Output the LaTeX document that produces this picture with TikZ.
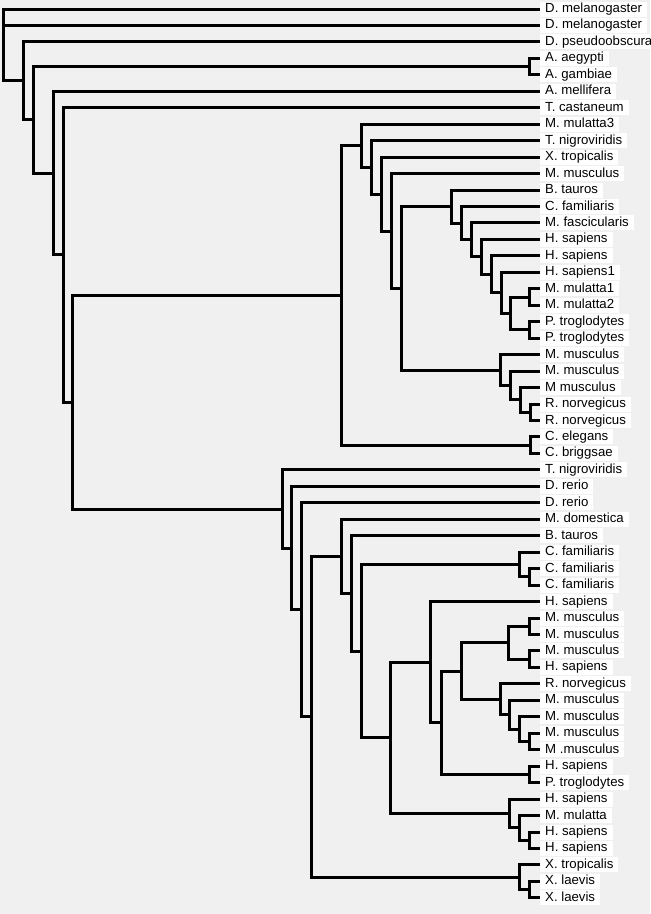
\documentclass[tikz,border=0pt]{standalone}
\usepackage{fontspec}
\setmainfont{Liberation Sans}
\definecolor{bgray}{HTML}{F0F0F0}

\tikzstyle{taxon} = [anchor=west, fill=white, font=\fontsize{13.2}{14}\selectfont, inner xsep=5pt, inner ysep=0pt, minimum height=15pt, text height=9.5pt, text depth=2.5pt]
\tikzstyle{branch} = [line width=3pt, line join=miter]

\begin{document}
\begin{tikzpicture}[x=1pt, y=-16.46pt]
\fill [bgray] (0,-0.547) rectangle (650,54.98);
\useasboundingbox (0,-0.547) rectangle (650,54.98);

% taxa
\node (dmel1) [taxon] at (540,0) {D. melanogaster};
\node (dmel2) [taxon] at (540,1) {D. melanogaster};
\node (dpse) [taxon] at (540,2) {D. pseudoobscura};
\node (aaeg) [taxon] at (540,3) {A. aegypti};
\node (agam) [taxon] at (540,4) {A. gambiae};
\node (amel) [taxon] at (540,5) {A. mellifera};
\node (tcas) [taxon] at (540,6) {T. castaneum};
\node (mmul3) [taxon] at (540,7) {M. mulatta3};
\node (tnig1) [taxon] at (540,8) {T. nigroviridis};
\node (xtro1) [taxon] at (540,9) {X. tropicalis};
\node (mmus1) [taxon] at (540,10) {M. musculus};
\node (btau1) [taxon] at (540,11) {B. tauros};
\node (cfam1) [taxon] at (540,12) {C. familiaris};
\node (mfas) [taxon] at (540,13) {M. fascicularis};
\node (hsap1) [taxon] at (540,14) {H. sapiens};
\node (hsap2) [taxon] at (540,15) {H. sapiens};
\node (hsap3) [taxon] at (540,16) {H. sapiens1};
\node (mmul1) [taxon] at (540,17) {M. mulatta1};
\node (mmul2) [taxon] at (540,18) {M. mulatta2};
\node (ptro1) [taxon] at (540,19) {P. troglodytes};
\node (ptro2) [taxon] at (540,20) {P. troglodytes};
\node (mmus2) [taxon] at (540,21) {M. musculus};
\node (mmus3) [taxon] at (540,22) {M. musculus};
\node (mmus4) [taxon] at (540,23) {M musculus};
\node (rnor1) [taxon] at (540,24) {R. norvegicus};
\node (rnor2) [taxon] at (540,25) {R. norvegicus};
\node (cele) [taxon] at (540,26) {C. elegans};
\node (cbri) [taxon] at (540,27) {C. briggsae};
\node (tnig2) [taxon] at (540,28) {T. nigroviridis};
\node (drer1) [taxon] at (540,29) {D. rerio};
\node (drer2) [taxon] at (540,30) {D. rerio};
\node (mdom) [taxon] at (540,31) {M. domestica};
\node (btau2) [taxon] at (540,32) {B. tauros};
\node (cfam2) [taxon] at (540,33) {C. familiaris};
\node (cfam3) [taxon] at (540,34) {C. familiaris};
\node (cfam4) [taxon] at (540,35) {C. familiaris};
\node (hsap4) [taxon] at (540,36) {H. sapiens};
\node (mmus5) [taxon] at (540,37) {M. musculus};
\node (mmus6) [taxon] at (540,38) {M. musculus};
\node (mmus7) [taxon] at (540,39) {M. musculus};
\node (hsap5) [taxon] at (540,40) {H. sapiens};
\node (rnor3) [taxon] at (540,41) {R. norvegicus};
\node (mmus8) [taxon] at (540,42) {M. musculus};
\node (mmus9) [taxon] at (540,43) {M. musculus};
\node (mmus10) [taxon] at (540,44) {M. musculus};
\node (mmus11) [taxon] at (540,45) {M .musculus};
\node (hsap6) [taxon] at (540,46) {H. sapiens};
\node (ptro3) [taxon] at (540,47) {P. troglodytes};
\node (hsap7) [taxon] at (540,48) {H. sapiens};
\node (mmul4) [taxon] at (540,49) {M. mulatta};
\node (hsap8) [taxon] at (540,50) {H. sapiens};
\node (hsap9) [taxon] at (540,51) {H. sapiens};
\node (xtro2) [taxon] at (540,52) {X. tropicalis};
\node (xlae1) [taxon] at (540,53) {X. laevis};
\node (xlae2) [taxon] at (540,54) {X. laevis};

% inner nodes
\coordinate (root) at (3,4.37);
\coordinate (nA) at (23,4.37);
\coordinate (nB) at (33,6.74);
\coordinate (aeg) at (529,3.5);
\coordinate (nC) at (53,9.97);
\coordinate (nD) at (63,14.94);
\coordinate (nE) at (72,23.89);
\coordinate (nF) at (341,17.40);
\coordinate (cel) at (530,26.5);
\coordinate (nF1) at (361,8.31);
\coordinate (nF2) at (371,9.62);
\coordinate (nF3) at (381,11.24);
\coordinate (nF4) at (391,13.49);
\coordinate (nF5) at (401,16.97);
\coordinate (nH1) at (451,12.01);
\coordinate (nH2) at (461,13.02);
\coordinate (nH3) at (471,14.03);
\coordinate (nH4) at (481,15.06);
\coordinate (nH5) at (491,16.13);
\coordinate (nH6) at (501,17.25);
\coordinate (nH7) at (510,18.5);
\coordinate (mul) at (529,17.5);
\coordinate (tro) at (529,19.5);
\coordinate (nM1) at (500,21.94);
\coordinate (nM2) at (510,22.88);
\coordinate (nM3) at (520,23.75);
\coordinate (nor) at (530,24.5);
\coordinate (nG) at (282,30.38);
\coordinate (nG2) at (291,32.75);
\coordinate (nG3) at (301,36.5);
\coordinate (nG4) at (311,43);
\coordinate (nK1) at (341,33.25);
\coordinate (nK2) at (351,35.51);
\coordinate (nK3) at (361,39.01);
\coordinate (cfa) at (519,33.75);
\coordinate (cfb) at (529,34.5);
\coordinate (nL1) at (390,44.28);
\coordinate (nL2) at (430,39.68);
\coordinate (nL3) at (441,43.36);
\coordinate (nL4) at (461,40.22);
\coordinate (nL5) at (508,38.5);
\coordinate (mma) at (529,37.5);
\coordinate (mmb) at (529,39.5);
\coordinate (nR1) at (500,41.94);
\coordinate (nR2) at (509,42.88);
\coordinate (nR3) at (519,43.75);
\coordinate (nR4) at (529,44.5);
\coordinate (hpt) at (529,46.5);
\coordinate (nP1) at (509,48.88);
\coordinate (nP2) at (519,49.75);
\coordinate (nP3) at (529,50.5);
\coordinate (xa) at (519,52.75);
\coordinate (xb) at (529,53.5);

% branches
\draw [branch] (dmel1) -| (root) -- (nA);
\draw [branch] (root) |- (dmel2);
\draw [branch] (dpse) -| (nA) |- (nB);
\draw [branch] (aeg) -| (nB) |- (nC);
\draw [branch] (aaeg) -| (aeg) |- (agam);
\draw [branch] (amel) -| (nC) |- (nD);
\draw [branch] (tcas) -| (nD) |- (nE);
\draw [branch] (nF) -| (nE) |- (nG);
\draw [branch] (nF1) -| (nF) |- (cel);
\draw [branch] (cele) -| (cel) |- (cbri);
\draw [branch] (mmul3) -| (nF1) |- (nF2);
\draw [branch] (tnig1) -| (nF2) |- (nF3);
\draw [branch] (xtro1) -| (nF3) |- (nF4);
\draw [branch] (mmus1) -| (nF4) |- (nF5);
\draw [branch] (nH1) -| (nF5) |- (nM1);
\draw [branch] (btau1) -| (nH1) |- (nH2);
\draw [branch] (cfam1) -| (nH2) |- (nH3);
\draw [branch] (mfas) -| (nH3) |- (nH4);
\draw [branch] (hsap1) -| (nH4) |- (nH5);
\draw [branch] (hsap2) -| (nH5) |- (nH6);
\draw [branch] (hsap3) -| (nH6) |- (nH7);
\draw [branch] (mul) -| (nH7) |- (tro);
\draw [branch] (mmul1) -| (mul) |- (mmul2);
\draw [branch] (ptro1) -| (tro) |- (ptro2);
\draw [branch] (mmus2) -| (nM1) |- (nM2);
\draw [branch] (mmus3) -| (nM2) |- (nM3);
\draw [branch] (mmus4) -| (nM3) |- (nor);
\draw [branch] (rnor1) -| (nor) |- (rnor2);
\draw [branch] (tnig2) -| (nG) |- (nG2);
\draw [branch] (drer1) -| (nG2) |- (nG3);
\draw [branch] (drer2) -| (nG3) |- (nG4);
\draw [branch] (nK1) -| (nG4) |- (xa);
\draw [branch] (mdom) -| (nK1) |- (nK2);
\draw [branch] (btau2) -| (nK2) |- (nK3);
\draw [branch] (cfa) -| (nK3) |- (nL1);
\draw [branch] (cfam2) -| (cfa) |- (cfb);
\draw [branch] (cfam3) -| (cfb) |- (cfam4);
\draw [branch] (nL2) -| (nL1) |- (nP1);
\draw [branch] (hsap4) -| (nL2) |- (nL3);
\draw [branch] (nL4) -| (nL3) |- (hpt);
\draw [branch] (nL5) -| (nL4) |- (nR1);
\draw [branch] (mma) -| (nL5) |- (mmb);
\draw [branch] (mmus5) -| (mma) |- (mmus6);
\draw [branch] (mmus7) -| (mmb) |- (hsap5);
\draw [branch] (rnor3) -| (nR1) |- (nR2);
\draw [branch] (mmus8) -| (nR2) |- (nR3);
\draw [branch] (mmus9) -| (nR3) |- (nR4);
\draw [branch] (mmus10) -| (nR4) |- (mmus11);
\draw [branch] (hsap6) -| (hpt) |- (ptro3);
\draw [branch] (hsap7) -| (nP1) |- (nP2);
\draw [branch] (mmul4) -| (nP2) |- (nP3);
\draw [branch] (hsap8) -| (nP3) |- (hsap9);
\draw [branch] (xtro2) -| (xa) |- (xb);
\draw [branch] (xlae1) -| (xb) |- (xlae2);
\end{tikzpicture}
\end{document}
